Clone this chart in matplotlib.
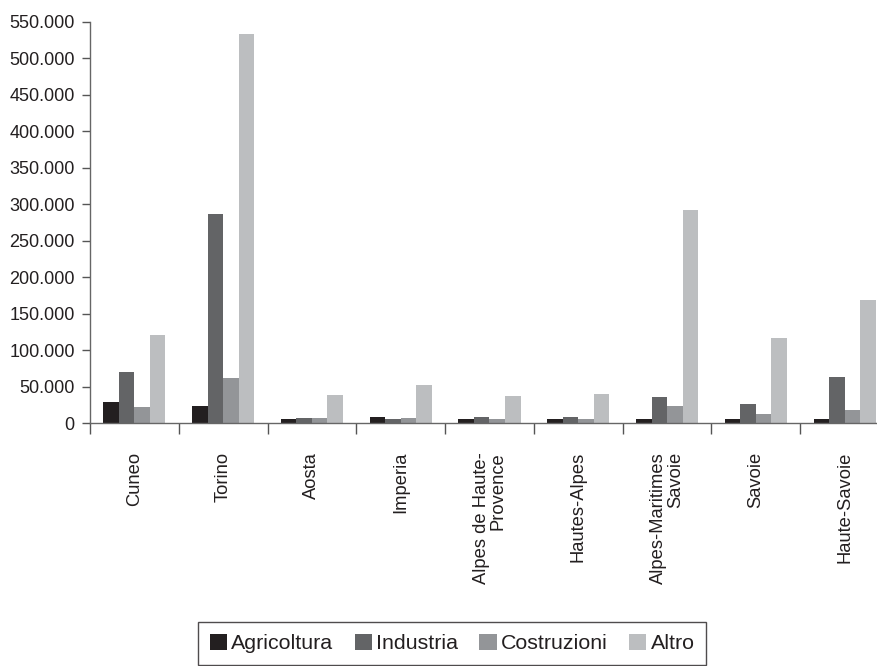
import matplotlib
matplotlib.use("Agg")
import matplotlib.pyplot as plt
import numpy as np
from matplotlib.ticker import FuncFormatter, FixedLocator

plt.rcParams['font.family'] = ['Liberation Sans', 'DejaVu Sans']

provinces = ["Cuneo", "Torino", "Aosta", "Imperia", "Alpes de Haute-\nProvence",
             "Hautes-Alpes", "Alpes-Maritimes\nSavoie", "Savoie", "Haute-Savoie"]
series_names = ["Agricoltura", "Industria", "Costruzioni", "Altro"]
agricoltura = [29000, 23000, 5500, 8000, 5500, 5500, 5500, 5500, 5500]
industria = [70000, 287000, 7000, 5500, 8000, 8000, 35500, 26000, 63000]
costruzioni = [22000, 61500, 7000, 7000, 5500, 5500, 23000, 12000, 17500]
altro = [121000, 534000, 38000, 52000, 37000, 39500, 292000, 116000, 169000]
colors = ["#231f20", "#636466", "#939598", "#bcbec0"]

fig = plt.figure(figsize=(8.78, 6.66), dpi=100)
ax = fig.add_axes([90 / 878, (666 - 423) / 666, 799 / 878, 401 / 666])

x = np.arange(len(provinces))
bw = 0.175
for i, (vals, name, col) in enumerate(zip([agricoltura, industria, costruzioni, altro],
                                          series_names, colors)):
    ax.bar(x - 1.5 * bw + i * bw, vals, width=bw, color=col, label=name, linewidth=0)

ax.set_xlim(-0.5, len(provinces) - 0.5)
ax.set_ylim(0, 550000)
ax.yaxis.set_major_locator(FixedLocator(np.arange(0, 550001, 50000)))
ax.yaxis.set_major_formatter(FuncFormatter(lambda v, p: f"{int(v):,}".replace(",", ".")))

ax.set_xticks(x)
ax.set_xticklabels([])
ax.tick_params(axis='x', which='major', length=0)
ax.set_xticks(np.arange(-0.5, len(provinces) + 0.5, 1), minor=True)
ax.tick_params(axis='x', which='minor', length=8, width=1, color="#555555", direction='out')
ax.tick_params(axis='y', length=6, width=1, color="#555555", direction='out', pad=5,
               labelsize=13, labelcolor="#231f20")

for s in ["top", "right"]:
    ax.spines[s].set_visible(False)
for s in ["left", "bottom"]:
    ax.spines[s].set_color("#666666")
    ax.spines[s].set_linewidth(1)

for xi, lab in zip(x, provinces):
    ax.text(xi, -0.072, lab, transform=ax.get_xaxis_transform(), rotation=90,
            ha='center', va='top', multialignment='right', fontsize=13.2,
            color="#231f20", linespacing=0.95)

handles, labels = ax.get_legend_handles_labels()
leg = fig.legend(handles, labels, loc='lower left', bbox_to_anchor=(198 / 878, 1 / 666),
                 borderaxespad=0, ncol=4, frameon=True, fancybox=False, fontsize=15.4,
                 handlelength=0.8, handleheight=0.8, handletextpad=0.2,
                 columnspacing=1.0, borderpad=0.55, edgecolor="#231f20")
leg.get_frame().set_linewidth(1)
for t in leg.get_texts():
    t.set_color("#231f20")

fig.savefig("out.png", dpi=100)
